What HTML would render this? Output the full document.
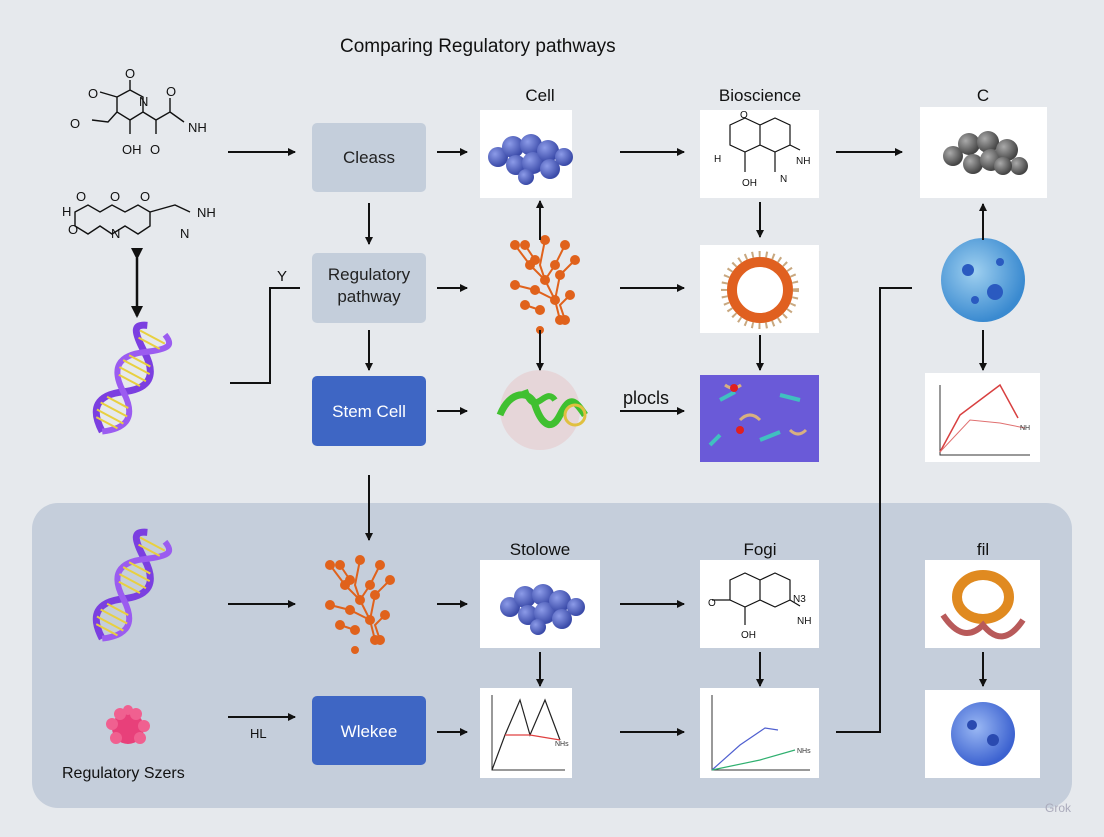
<!DOCTYPE html>
<html><head><meta charset="utf-8"><style>
html,body{margin:0;padding:0;}
body{width:1104px;height:832px;overflow:hidden;background:#e6e9ed;font-family:"Liberation Sans",sans-serif;}
</style></head><body>
<svg width="1104" height="832" viewBox="0 0 1104 832" xmlns="http://www.w3.org/2000/svg" font-family="Liberation Sans, sans-serif">
<defs>
<marker id="a" markerWidth="8" markerHeight="8" refX="7" refY="4" orient="auto" markerUnits="userSpaceOnUse" viewBox="0 0 8 8"><path d="M0,0 L8,4 L0,8 z" fill="#111"/></marker>
<marker id="as" markerWidth="12" markerHeight="12" refX="10" refY="6" orient="auto" markerUnits="userSpaceOnUse" viewBox="0 0 12 12"><path d="M0,0 L12,6 L0,12 z" fill="#111"/></marker>
<radialGradient id="bs" cx="35%" cy="35%" r="65%"><stop offset="0" stop-color="#8c9be8"/><stop offset="1" stop-color="#3a4aa8"/></radialGradient>
<radialGradient id="gs" cx="35%" cy="35%" r="65%"><stop offset="0" stop-color="#aaa"/><stop offset="1" stop-color="#444"/></radialGradient>
<radialGradient id="cell" cx="40%" cy="40%" r="60%"><stop offset="0" stop-color="#9fd0f0"/><stop offset="1" stop-color="#3a8ad0"/></radialGradient>
<radialGradient id="cell2" cx="40%" cy="40%" r="60%"><stop offset="0" stop-color="#9ab8f4"/><stop offset="1" stop-color="#3c62d0"/></radialGradient>
<g id="blue"><circle cx="-30" cy="2" r="10" fill="url(#bs)"/><circle cx="-15" cy="-8" r="11" fill="url(#bs)"/><circle cx="-12" cy="10" r="10" fill="url(#bs)"/><circle cx="3" cy="-10" r="11" fill="url(#bs)"/><circle cx="5" cy="8" r="11" fill="url(#bs)"/><circle cx="20" cy="-4" r="11" fill="url(#bs)"/><circle cx="22" cy="14" r="10" fill="url(#bs)"/><circle cx="36" cy="2" r="9" fill="url(#bs)"/><circle cx="-2" cy="22" r="8" fill="url(#bs)"/></g>
<g id="orange" fill="#e0621c" stroke="#e0621c" stroke-width="2"><path d="M-30,-40 L-15,-20 L0,-5 L10,15 L15,35 M-20,-40 L-10,-25 M0,-45 L-5,-20 L0,-5 M20,-40 L10,-20 L0,-5 M30,-25 L15,-10 L10,15 M-30,0 L-10,5 L10,15 M25,10 L15,20 L20,35 M-20,20 L-5,25" fill="none"/><circle cx="-30" cy="-40" r="4"/><circle cx="-20" cy="-40" r="4"/><circle cx="0" cy="-45" r="4"/><circle cx="20" cy="-40" r="4"/><circle cx="30" cy="-25" r="4"/><circle cx="-15" cy="-20" r="4"/><circle cx="0" cy="-5" r="4"/><circle cx="10" cy="15" r="4"/><circle cx="15" cy="35" r="4"/><circle cx="-30" cy="0" r="4"/><circle cx="-10" cy="5" r="4"/><circle cx="25" cy="10" r="4"/><circle cx="20" cy="35" r="4"/><circle cx="-20" cy="20" r="4"/><circle cx="-5" cy="25" r="4"/><circle cx="10" cy="-20" r="4"/><circle cx="-10" cy="-25" r="4"/><circle cx="15" cy="-10" r="4"/><circle cx="-5" cy="45" r="3"/></g>
<g id="dna"><path d="M-55,0 C-40,-22 -25,-22 -10,0 S20,22 35,0 S55,-22 60,-10" fill="none" stroke="#7b3fe0" stroke-width="7"/><path d="M-55,0 C-40,22 -25,22 -10,0 S20,-22 35,0 S55,22 60,10" fill="none" stroke="#9b5cf0" stroke-width="6"/><g stroke="#e8d040" stroke-width="2"><path d="M-45,-12 V12 M-38,-15 V15 M-30,-15 V15 M-22,-12 V12 M3,-12 V12 M10,-15 V15 M18,-15 V15 M25,-12 V12 M45,-12 V12 M52,-14 V14"/></g></g>
</defs>
<rect x="0" y="0" width="1104" height="832" fill="#e6e9ed"/>
<rect x="32" y="503" width="1040" height="305" rx="26" fill="#c5cedb"/>
<text x="340" y="52" font-size="19" fill="#111">Comparing Regulatory pathways</text>
<!-- molecules left -->
<g stroke="#111" stroke-width="1.4" fill="none">
<path d="M130,90 L143,97 L143,112 L130,120 L117,112 L117,97 Z M130,90 V80 M117,97 L100,92 M117,112 L108,122 L92,120 M143,112 L156,120 L170,112 L170,98 M130,120 V134 M156,120 V134 M170,112 L184,122"/>
<path d="M75,212 L88,205 L100,212 L112,205 L125,212 L138,205 L150,212 L150,226 L138,234 L125,226 L112,234 L100,226 L88,234 L75,226 Z M150,212 L175,205 L190,212"/>
</g>
<g font-size="13" fill="#111"><text x="125" y="78">O</text><text x="139" y="106">N</text><text x="88" y="98">O</text><text x="70" y="128">O</text><text x="166" y="96">O</text><text x="188" y="132">NH</text><text x="122" y="154">OH</text><text x="150" y="154">O</text>
<text x="62" y="216">H</text><text x="76" y="201">O</text><text x="110" y="201">O</text><text x="140" y="201">O</text><text x="197" y="217">NH</text><text x="68" y="234">O</text><text x="111" y="238">N</text><text x="180" y="238">N</text></g>
<line x1="137" y1="258" x2="137" y2="316" stroke="#111" stroke-width="2.5" marker-end="url(#as)" marker-start="url(#as)"/>
<use href="#dna" transform="translate(128,383) rotate(-62)"/>
<use href="#dna" transform="translate(128,590) rotate(-62)"/>
<g transform="translate(128,728)" fill="#e8407a"><circle r="16"/><g fill="#f06090"><circle cx="-16" cy="-4" r="6"/><circle cx="16" cy="-2" r="6"/><circle cx="-8" cy="-14" r="6"/><circle cx="8" cy="-14" r="6"/><circle cx="-12" cy="10" r="6"/><circle cx="12" cy="10" r="6"/><circle cx="0" cy="-18" r="5"/></g></g>
<text x="62" y="778" font-size="16" fill="#111">Regulatory Szers</text>
<!-- boxes -->
<rect x="312" y="123" width="114" height="69" rx="5" fill="#c4cedb"/><text x="369" y="163" font-size="17" text-anchor="middle" fill="#222">Cleass</text>
<rect x="312" y="253" width="114" height="70" rx="5" fill="#c4cedb"/><text x="369" y="280" font-size="17" text-anchor="middle" fill="#222">Regulatory</text><text x="369" y="302" font-size="17" text-anchor="middle" fill="#222">pathway</text>
<rect x="312" y="376" width="114" height="70" rx="5" fill="#3e66c4"/><text x="369" y="417" font-size="17" text-anchor="middle" fill="#fff">Stem Cell</text>
<rect x="312" y="696" width="114" height="69" rx="5" fill="#3e66c4"/><text x="369" y="737" font-size="17" text-anchor="middle" fill="#fff">Wlekee</text>
<!-- labels -->
<g font-size="17" fill="#111" text-anchor="middle"><text x="540" y="101">Cell</text><text x="760" y="101">Bioscience</text><text x="983" y="101">C</text><text x="540" y="555">Stolowe</text><text x="760" y="555">Fogi</text><text x="983" y="555">fil</text></g>
<!-- white panels -->
<g fill="#fff"><rect x="480" y="110" width="92" height="88"/><rect x="700" y="110" width="119" height="88"/><rect x="920" y="107" width="127" height="91"/><rect x="700" y="245" width="119" height="88"/><rect x="925" y="373" width="115" height="89"/><rect x="480" y="560" width="120" height="88"/><rect x="700" y="560" width="119" height="88"/><rect x="925" y="560" width="115" height="88"/><rect x="480" y="688" width="92" height="90"/><rect x="700" y="688" width="119" height="90"/><rect x="925" y="690" width="115" height="88"/></g>
<rect x="700" y="375" width="119" height="87" fill="#6a5ad8"/>
<g stroke="#40c0c0" stroke-width="4"><path d="M720,400 l15,-8 M780,395 l20,5 M760,440 l20,-8 M710,445 l10,-10"/></g><g stroke="#d8b080" stroke-width="3" fill="none"><path d="M740,420 q10,-10 20,0 M790,430 q8,8 16,0 M725,385 q8,6 16,0"/></g><circle cx="734" cy="388" r="4" fill="#e02020"/><circle cx="740" cy="430" r="4" fill="#e02020"/>
<use href="#blue" transform="translate(528,155)"/>
<use href="#blue" transform="translate(540,605)"/>
<g transform="translate(983,152)"><circle cx="-30" cy="4" r="10" fill="url(#gs)"/><circle cx="-14" cy="-8" r="11" fill="url(#gs)"/><circle cx="-10" cy="12" r="10" fill="url(#gs)"/><circle cx="5" cy="-10" r="11" fill="url(#gs)"/><circle cx="8" cy="8" r="11" fill="url(#gs)"/><circle cx="24" cy="-2" r="11" fill="url(#gs)"/><circle cx="36" cy="14" r="9" fill="url(#gs)"/><circle cx="20" cy="14" r="9" fill="url(#gs)"/></g>
<use href="#orange" transform="translate(545,285)"/>
<use href="#orange" transform="translate(360,605)"/>
<g transform="translate(540,410)"><circle r="40" fill="#e8a0a0" opacity="0.25"/><path d="M-40,5 C-30,-20 -10,-20 -5,-5 S10,25 20,5 S35,-10 45,5" stroke="#40c030" stroke-width="7" fill="none"/><path d="M-15,-20 C-5,10 5,-25 15,-10" stroke="#40c030" stroke-width="6" fill="none"/><circle cx="35" cy="5" r="10" fill="none" stroke="#e0c040" stroke-width="3"/></g>
<g transform="translate(760,290)"><circle r="28" fill="none" stroke="#e06020" stroke-width="10"/><circle r="36" fill="none" stroke="#c8a880" stroke-width="6" stroke-dasharray="2 5"/></g>
<g transform="translate(983,605)"><ellipse cx="0" cy="-8" rx="26" ry="22" fill="none" stroke="#e08a20" stroke-width="10"/><path d="M-40,10 q20,30 40,10 q20,25 40,-5" stroke="#b85a5a" stroke-width="6" fill="none"/></g>
<circle cx="983" cy="280" r="42" fill="url(#cell)"/><g fill="#2a5ac0"><circle cx="968" cy="270" r="6"/><circle cx="995" cy="292" r="8"/><circle cx="975" cy="300" r="4"/><circle cx="1000" cy="262" r="4"/></g>
<circle cx="983" cy="734" r="32" fill="url(#cell2)"/><g fill="#2a4ab0"><circle cx="972" cy="725" r="5"/><circle cx="993" cy="740" r="6"/></g>
<!-- charts -->
<g stroke="#333" stroke-width="1" fill="none"><path d="M940,385 V455 H1030 M492,695 V770 H565 M712,695 V770 H810"/></g>
<polyline points="940,452 960,415 1000,385 1018,418" fill="none" stroke="#d84040" stroke-width="1.5"/><polyline points="940,452 970,420 1000,423 1025,428" fill="none" stroke="#e07070" stroke-width="1"/>
<polyline points="492,770 505,735 520,700 530,735 545,700 560,740" fill="none" stroke="#222" stroke-width="1.2"/><polyline points="505,735 530,735 560,740" fill="none" stroke="#e04040" stroke-width="1.2"/>
<polyline points="712,770 740,745 765,728 778,730" fill="none" stroke="#5060d0" stroke-width="1.2"/><polyline points="712,770 760,760 795,750" fill="none" stroke="#30b070" stroke-width="1.2"/>
<g font-size="7" fill="#333"><text x="1020" y="430">NH</text><text x="555" y="746">NHs</text><text x="797" y="753">NHs</text></g>
<!-- molecules in panels -->
<g stroke="#111" stroke-width="1.2" fill="none"><path d="M730,125 L745,118 L760,125 L760,145 L745,152 L730,145 Z M760,125 L775,118 L790,125 L790,145 L775,152 L760,145 M745,152 V172 M775,152 V172 M790,145 L800,150"/><path d="M730,580 L745,573 L760,580 L760,600 L745,607 L730,600 Z M760,580 L775,573 L790,580 L790,600 L775,607 L760,600 M745,607 V625 M790,600 L800,606 M712,600 L730,600"/></g>
<g font-size="10" fill="#111"><text x="714" y="162">H</text><text x="796" y="164">NH</text><text x="780" y="182">N</text><text x="742" y="186">OH</text><text x="740" y="118">O</text><text x="708" y="606">O</text><text x="797" y="624">NH</text><text x="741" y="638">OH</text><text x="793" y="602">N3</text></g>
<!-- arrows -->
<g stroke="#111" stroke-width="2" fill="none" marker-end="url(#a)">
<line x1="228" y1="152" x2="295" y2="152"/><line x1="437" y1="152" x2="467" y2="152"/><line x1="620" y1="152" x2="684" y2="152"/><line x1="836" y1="152" x2="902" y2="152"/>
<line x1="437" y1="288" x2="467" y2="288"/><line x1="620" y1="288" x2="684" y2="288"/>
<line x1="437" y1="411" x2="467" y2="411"/><line x1="620" y1="411" x2="684" y2="411"/>
<line x1="369" y1="203" x2="369" y2="244"/><line x1="369" y1="330" x2="369" y2="370"/><line x1="369" y1="475" x2="369" y2="540"/>
<line x1="540" y1="240" x2="540" y2="201"/><line x1="540" y1="330" x2="540" y2="370"/>
<line x1="760" y1="202" x2="760" y2="237"/><line x1="760" y1="335" x2="760" y2="370"/>
<line x1="983" y1="240" x2="983" y2="204"/><line x1="983" y1="330" x2="983" y2="370"/>
<line x1="228" y1="604" x2="295" y2="604"/><line x1="437" y1="604" x2="467" y2="604"/><line x1="620" y1="604" x2="684" y2="604"/>
<line x1="228" y1="717" x2="295" y2="717"/><line x1="437" y1="732" x2="467" y2="732"/><line x1="620" y1="732" x2="684" y2="732"/>
<line x1="540" y1="652" x2="540" y2="686"/><line x1="760" y1="652" x2="760" y2="686"/><line x1="983" y1="652" x2="983" y2="686"/>
</g>
<polyline points="230,383 270,383 270,288 300,288" fill="none" stroke="#111" stroke-width="2"/>
<polyline points="836,732 880,732 880,288 912,288" fill="none" stroke="#111" stroke-width="2"/>
<text x="277" y="281" font-size="15" fill="#111">Y</text>
<text x="623" y="404" font-size="18" fill="#111">plocls</text>
<text x="250" y="738" font-size="13" fill="#111">HL</text>
<text x="1045" y="812" font-size="12" fill="#aab">Grok</text>
</svg>
</body></html>
